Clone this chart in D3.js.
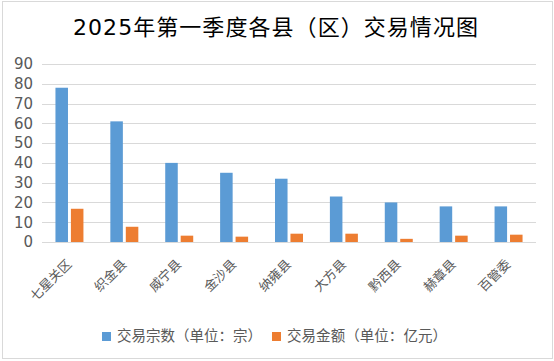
<!DOCTYPE html>
<html><head><meta charset="utf-8">
<script src="https://cdn.jsdelivr.net/npm/d3@7"></script>
<style>
body{margin:0;background:#fff;}
svg{display:block;}
text{font-family:"DejaVu Sans","Noto Sans CJK SC",sans-serif;}
</style></head>
<body><svg id="c" width="554" height="361"></svg>
<script>
const categories = ["七星关区","织金县","威宁县","金沙县","纳雍县","大方县","黔西县","赫章县","百管委"];
const seriesNames = ["交易宗数（单位：宗）","交易金额（单位：亿元）"];
const countValues = [78, 61, 40, 35, 32, 23, 20, 18, 18];
const amountValues = [16.8, 7.7, 3.2, 2.7, 4.2, 4.2, 1.6, 3.2, 3.7];
const yTicks = [0,10,20,30,40,50,60,70,80,90];
const colors = ["#5b9bd5","#ed7d31"];
const title = "2025年第一季度各县（区）交易情况图";

const svg = d3.select("#c");
const W = 554, H = 361;
const m = {left:42, right:18, top:64, bottom:119};

svg.append("rect").attr("x",2.5).attr("y",1.5).attr("width",550).attr("height",357)
  .attr("fill","#fff").attr("stroke","#d9d9d9");

svg.append("text").attr("x",73).attr("y",35)
  .attr("font-size",22).attr("fill","#000")
  .attr("textLength",405).attr("lengthAdjust","spacing").text(title);

const x0 = d3.scaleBand().domain(categories).range([m.left, W-m.right]).padding(0);
const x1 = d3.scaleBand().domain(seriesNames).range([0, x0.bandwidth()]).paddingInner(0.19).paddingOuter(0.87);
const y = d3.scaleLinear().domain([0,90]).range([H-m.bottom, m.top]);

// gridlines
svg.append("g").selectAll("line").data(yTicks).join("line")
  .attr("x1",m.left).attr("x2",W-m.right)
  .attr("y1",d=>Math.round(y(d))+0.5).attr("y2",d=>Math.round(y(d))+0.5)
  .attr("stroke","#d9d9d9").attr("stroke-width",1);

// y axis labels
const yAxis = d3.axisLeft(y).tickValues(yTicks).tickSize(0).tickPadding(9);
const ga = svg.append("g").attr("transform",`translate(${m.left},0)`).call(yAxis);
ga.select(".domain").remove();
ga.selectAll("text").attr("font-size",15).attr("fill","#595959")
  .attr("font-family","DejaVu Sans");

const data = categories.map((c,i)=>({c, vals:[countValues[i], amountValues[i]]}));
const g = svg.append("g").selectAll("g").data(data).join("g")
  .attr("transform",d=>`translate(${x0(d.c)},0)`);
g.selectAll("rect").data(d=>d.vals.map((v,j)=>({s:seriesNames[j], v, j}))).join("rect")
  .attr("x",d=>x1(d.s)).attr("width",x1.bandwidth())
  .attr("y",d=>y(d.v)).attr("height",d=>y(0)-y(d.v))
  .attr("fill",d=>colors[d.j]);

// x labels
svg.append("g").selectAll("text").data(categories).join("text")
  .attr("transform",d=>`translate(${x0(d)+x0.bandwidth()/2+3},${y(0)+23}) rotate(-45)`)
  .attr("text-anchor","end").attr("font-size",13).attr("fill","#595959")
  .attr("font-family","Noto Sans CJK SC").text(d=>d);

// legend
const leg = svg.append("g");
const legX = [102, 272], legLen = [145, 160];
seriesNames.forEach((s,i)=>{
  leg.append("rect").attr("x",legX[i]).attr("y",332).attr("width",9).attr("height",9).attr("fill",colors[i]);
  leg.append("text").attr("x",legX[i]+15).attr("y",341).attr("font-size",14.5)
    .attr("fill","#595959").attr("font-family","Noto Sans CJK SC")
    .attr("textLength",legLen[i]).attr("lengthAdjust","spacing").text(s);
});
</script></body></html>
